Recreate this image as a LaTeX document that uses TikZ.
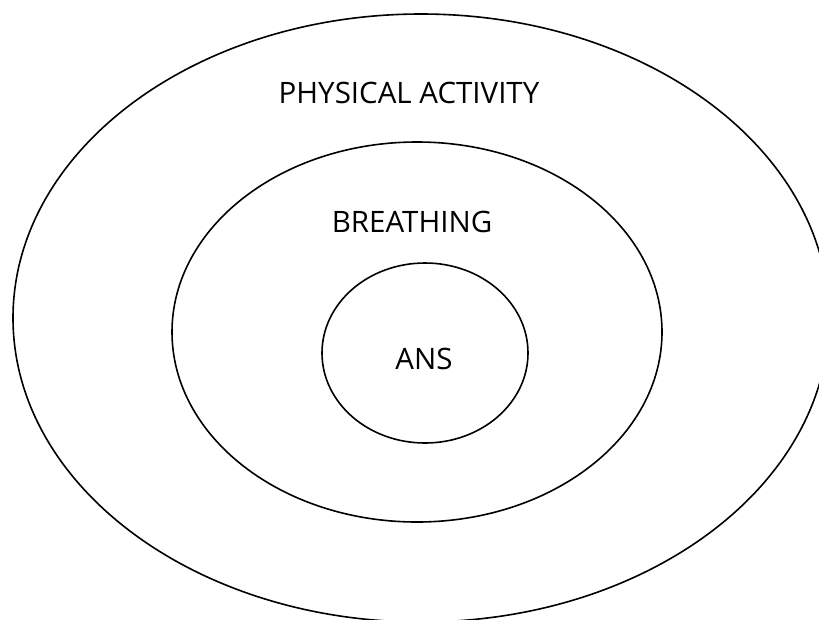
\documentclass[tikz,border=0pt]{standalone}
\usepackage{fontspec}
\setmainfont{Open Sans}
\usepackage{tikz}

\begin{document}
\begin{tikzpicture}[x=1pt,y=-1pt,font=\fontsize{29.5}{33}\selectfont]
  \useasboundingbox (0,0) rectangle (819,619);
  \clip (0,0) rectangle (819,619);
  \draw[line width=1.6pt] (421,318) ellipse [x radius=408, y radius=304];
  \draw[line width=1.6pt] (417,332) ellipse [x radius=245, y radius=190];
  \draw[line width=1.6pt] (425,353) ellipse [x radius=103, y radius=90];
  \node (activity) at (409,93) {PHYSICAL ACTIVITY};
  \node (breathing) at (412,222) {BREATHING};
  \node (ans) at (424,359) {ANS};
\end{tikzpicture}
\end{document}
